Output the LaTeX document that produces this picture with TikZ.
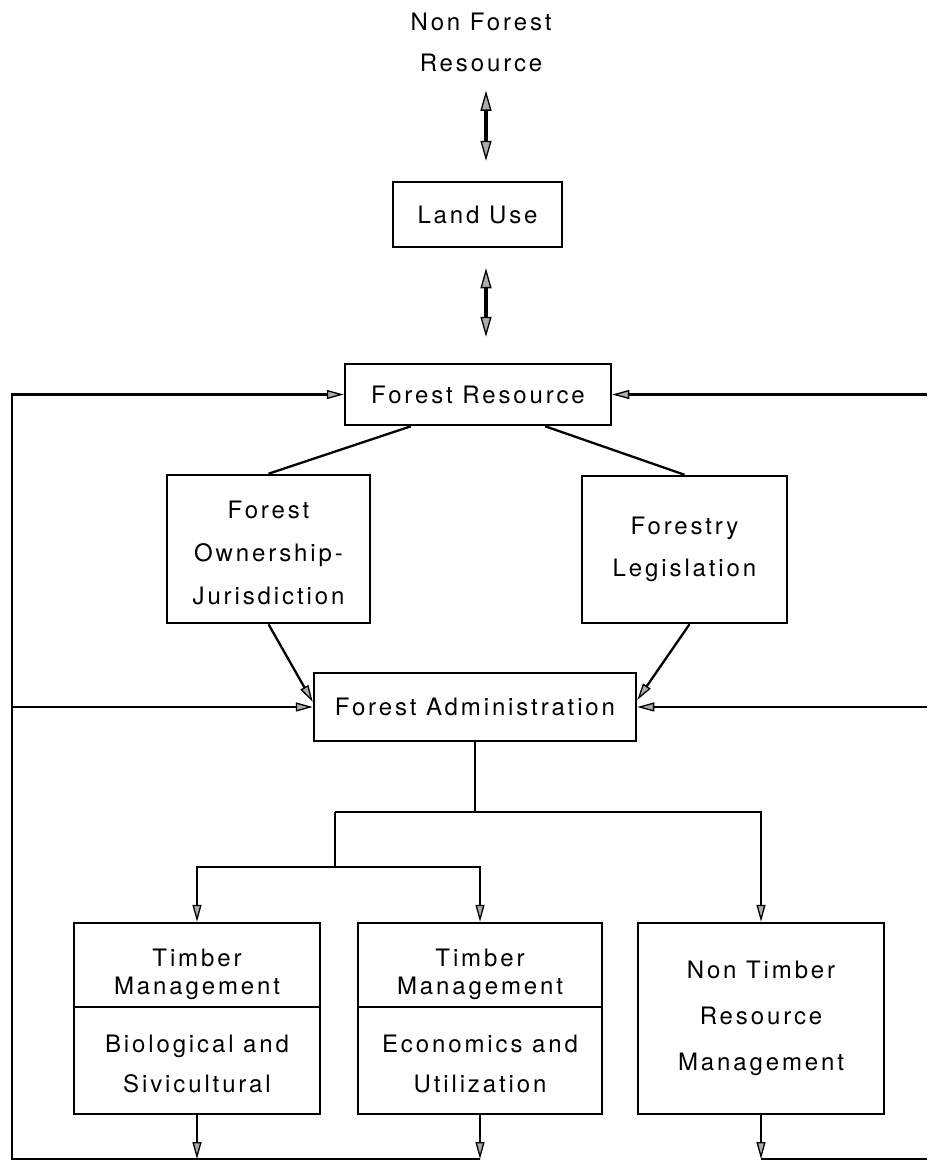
\documentclass[tikz,border=0pt]{standalone}
\usepackage{fontspec}
\setmainfont{TeX Gyre Heros}[LetterSpace=12]
\usetikzlibrary{arrows.meta,calc}
\begin{document}
\begin{tikzpicture}[x=1pt,y=-1pt,
  fs/.style={font=\fontsize{24}{#1}\selectfont},
  box/.style={draw, line width=2.5pt, inner sep=0pt, align=center, fs=30},
  lbl/.style={inner sep=0pt, align=center},
  link/.style={line width=2.3pt},
  arr/.style={link, -{Triangle[length=17pt,width=9pt,fill=gray!65,line width=1.3pt]}},
  dbl/.style={line width=3.8pt,
    {Triangle[length=20pt,width=11pt,fill=gray!65,line width=1.3pt]}-{Triangle[length=20pt,width=11pt,fill=gray!65,line width=1.3pt]}}
]
\useasboundingbox (0,0) rectangle (927,1162);

% boxes
\node[lbl, fs=41] (nfr) at (481,42) {Non Forest\\Resource};
\node[box, minimum width=169pt, minimum height=65pt] (land) at (477.5,214.5) {Land Use};
\node[box, minimum width=266pt, minimum height=61pt] (fr) at (478,394.5) {Forest Resource};
\node[box, minimum width=203pt, minimum height=148pt] (own) at (268.5,549) {};
\node[lbl, fs=43] (ownt) at (268.5,553) {Forest\\Ownership-\\Jurisdiction};
\node[box, minimum width=205pt, minimum height=147pt, fs=42] (leg) at (684.5,549.5) {Forestry\\Legislation};
\node[box, minimum width=322pt, minimum height=68pt] (adm) at (475,707) {Forest Administration};
\node[box, minimum width=246pt, minimum height=191pt] (tm1) at (197,1018.5) {};
\node[box, minimum width=244pt, minimum height=191pt] (tm2) at (480,1018.5) {};
\node[box, minimum width=246pt, minimum height=191pt, fs=46] (ntr) at (761,1018.5) {Non Timber\\Resource\\Management};

% split timber boxes
\draw[link] ([yshift=11.5pt]tm1.west) -- ([yshift=11.5pt]tm1.east);
\draw[link] ([yshift=11.5pt]tm2.west) -- ([yshift=11.5pt]tm2.east);
\node[lbl, fs=28] (tm1a) at (197,974) {Timber\\Management};
\node[lbl, fs=40] (tm1b) at (197,1064) {Biological and\\Sivicultural};
\node[lbl, fs=28] (tm2a) at (480,974) {Timber\\Management};
\node[lbl, fs=40] (tm2b) at (480,1064) {Economics and\\Utilization};

% two-way links at the top
\draw[dbl] ([xshift=8.5pt,yshift=90pt]land.north) -- ([xshift=8.5pt,yshift=20pt]land.north);
\draw[dbl] ([xshift=8.5pt,yshift=-20pt]land.south) -- ([xshift=8pt,yshift=26pt]fr.north);

% resource to ownership / legislation to administration
\draw[link] ($(fr.south west)!0.25!(fr.south east)$) -- (own.north);
\draw[link] ($(fr.south west)!0.75!(fr.south east)$) -- (leg.north);
\draw[arr] (own.south) -- ([yshift=5pt]adm.west);
\draw[arr] ([xshift=5pt]leg.south) -- ([yshift=7pt]adm.east);

% administration tree
\coordinate (hub) at (475,812);
\coordinate (lefthub) at (335,812);
\coordinate (lowhub) at (335,867);
\draw[link] (adm.south) -- (hub);
\draw[arr] (lefthub) -| (ntr.north);
\draw[arr] (lefthub) -- (lowhub) -| (tm1.north);
\draw[arr] (lowhub) -| (tm2.north);

% feedback loops
\coordinate (bl) at (12,1159);
\coordinate (br) at (927,1159);
\draw[arr] (tm1.south) -- (tm1.south |- bl);
\draw[arr] (tm2.south) -- (tm2.south |- bl);
\draw[arr] (ntr.south) -- (ntr.south |- br);
\draw[arr] (tm2.south |- bl) -- (bl) |- (fr.west);
\draw[arr] (bl |- adm.west) -- (adm.west);
\draw[link] (ntr.south |- br) -- (br);
\draw[arr] (br |- fr.east) -- (fr.east);
\draw[arr] (br |- adm.east) -- (adm.east);
\end{tikzpicture}
\end{document}
